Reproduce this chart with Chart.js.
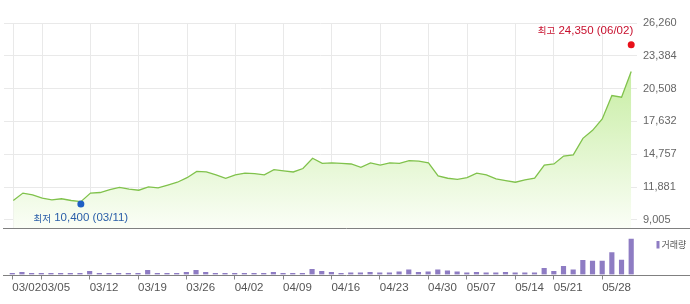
<!DOCTYPE html>
<html>
<head>
<meta charset="utf-8">
<script src="https://cdn.jsdelivr.net/npm/chart.js@4"></script>
<style>
    html, body { margin: 0; padding: 0; background: #fff; }
    #wrap { position: relative; width: 690px; height: 304px; }
    canvas { position: absolute; left: 0; }
    #priceChart { top: 0; }
    #volumeChart { top: 233px; }
</style>
</head>
<body>
<div id="wrap">
    <canvas id="priceChart" width="690" height="233"></canvas>
    <canvas id="volumeChart" width="690" height="71"></canvas>
</div>
<script>
// Trading days (2021) shown on the x axis
const dates = [
    '03/02', '03/03', '03/04', '03/05', '03/08', '03/09', '03/10', '03/11', '03/12', '03/15',
    '03/16', '03/17', '03/18', '03/19', '03/22', '03/23', '03/24', '03/25', '03/26', '03/29',
    '03/30', '03/31', '04/01', '04/02', '04/05', '04/06', '04/07', '04/08', '04/09', '04/12',
    '04/13', '04/14', '04/15', '04/16', '04/19', '04/20', '04/21', '04/22', '04/23', '04/26',
    '04/27', '04/28', '04/29', '04/30', '05/03', '05/04', '05/06', '05/07', '05/10', '05/11',
    '05/12', '05/13', '05/14', '05/17', '05/18', '05/20', '05/21', '05/24', '05/25', '05/26',
    '05/27', '05/28', '05/31', '06/01', '06/02'
];

// Closing prices
const closePrices = [
    10700, 11350, 11200, 10900, 10750, 10850, 10700, 10600, 11350, 11400,
    11650, 11850, 11700, 11600, 11900, 11800, 12050, 12300, 12700, 13250,
    13200, 12950, 12650, 12950, 13100, 13050, 12950, 13400, 13300, 13200,
    13500, 14400, 13950, 14000, 13950, 13900, 13600, 14000, 13800, 14000,
    13950, 14200, 14150, 14000, 12850, 12650, 12550, 12700, 13100, 12950,
    12600, 12450, 12300, 12500, 12650, 13800, 13900, 14600, 14700, 16150,
    16850, 17850, 19900, 19750, 22000
];

// Volume (thousand shares)
const volumes = [
    130, 230, 130, 130, 130, 130, 130, 130, 330, 130,
    130, 130, 130, 130, 430, 130, 130, 130, 230, 430,
    230, 130, 130, 130, 130, 130, 130, 230, 130, 130,
    130, 530, 330, 230, 130, 170, 170, 230, 170, 170,
    270, 470, 230, 270, 470, 370, 270, 170, 230, 170,
    170, 230, 170, 170, 170, 630, 330, 830, 470, 1430,
    1370, 1370, 2230, 1470, 3600
];

// Labelled x ticks and price axis ticks
const tickDates = ['03/02', '03/05', '03/12', '03/19', '03/26', '04/02', '04/09', '04/16',
                   '04/23', '04/30', '05/07', '05/14', '05/21', '05/28'];
const priceTicks = [9005, 11881, 14757, 17632, 20508, 23384, 26260];

// High / low markers
const highValue = 24350;
const highDate = '06/02';
const lowValue = 10400;
const lowDate = '03/11';

const NUM_FONT = '"Liberation Sans", Arial, sans-serif';
const KR_FONT = '"Noto Sans CJK KR", sans-serif';
Chart.defaults.font.family = NUM_FONT;

const tickIndices = tickDates.map(d => dates.indexOf(d));
const xMin = -0.96;
const xMax = 64.6;

// Draw a label made of Korean part (small font) + number part
function drawMixed(ctx, parts, x, y, align, color) {
    ctx.save();
    ctx.fillStyle = color;
    ctx.textBaseline = 'middle';
    ctx.textAlign = 'left';
    let total = 0;
    parts.forEach(p => { ctx.font = p.font; p.w = ctx.measureText(p.text).width; total += p.w; });
    let cx = align === 'right' ? x - total : align === 'center' ? x - total / 2 : x;
    parts.forEach(p => {
        ctx.font = p.font;
        ctx.fillText(p.text, cx, y);
        cx += p.w;
    });
    ctx.restore();
}

// Price chart
new Chart(document.getElementById('priceChart').getContext('2d'), {
    type: 'line',
    data: {
        datasets: [
            {
                data: closePrices.map((v, i) => ({ x: i, y: v })),
                order: 2,
                borderColor: '#80c24c',
                borderWidth: 1.3,
                pointRadius: 0,
                tension: 0,
                fill: 'start',
                backgroundColor: function(context) {
                    const area = context.chart.chartArea;
                    if (!area) return 'rgba(0,0,0,0)';
                    const g = context.chart.ctx.createLinearGradient(0, 8, 0, area.bottom);
                    g.addColorStop(0, '#b3e782');
                    g.addColorStop(1, '#fbfef7');
                    return g;
                }
            },
            {
                data: [{ x: dates.indexOf(highDate), y: highValue }],
                order: 1,
                showLine: false,
                pointRadius: 3.5,
                pointBorderWidth: 0,
                pointBackgroundColor: '#e8101a',
                clip: false
            },
            {
                data: [{ x: dates.indexOf(lowDate), y: lowValue }],
                order: 1,
                showLine: false,
                pointRadius: 3.5,
                pointBorderWidth: 0,
                pointBackgroundColor: '#1e5fc4',
                clip: false
            }
        ]
    },
    options: {
        responsive: false,
        animation: false,
        devicePixelRatio: 1,
        layout: { padding: { left: 3, top: 23, right: 0, bottom: 1 } },
        plugins: { legend: { display: false }, tooltip: { enabled: false } },
        scales: {
            x: {
                type: 'linear',
                offset: false,
                min: xMin,
                max: xMax,
                afterBuildTicks: s => { s.ticks = tickIndices.map(v => ({ value: v })); },
                afterFit: s => { s.height = 0; s.paddingLeft = 0; s.paddingRight = 0; },
                ticks: { display: false },
                grid: { color: '#e9e9e9', drawTicks: false },
                border: { display: false }
            },
            y: {
                position: 'right',
                min: 8200,
                max: 26260,
                afterBuildTicks: s => { s.ticks = priceTicks.map(v => ({ value: v })); },
                afterFit: s => { s.width = 53; s.paddingTop = 0; s.paddingBottom = 0; },
                ticks: {
                    padding: 6,
                    color: '#666',
                    font: { size: 11 },
                    callback: v => v.toLocaleString('en-US')
                },
                grid: { color: '#e9e9e9', drawTicks: false },
                border: { display: false }
            }
        }
    },
    plugins: [{
        id: 'markers',
        afterDatasetsDraw(chart) {
            const ctx = chart.ctx;
            const area = chart.chartArea;
            // separator line under the price panel
            ctx.save();
            ctx.strokeStyle = '#808080';
            ctx.lineWidth = 1;
            ctx.beginPath();
            ctx.moveTo(3, Math.round(area.bottom) - 0.5);
            ctx.lineTo(690, Math.round(area.bottom) - 0.5);
            ctx.stroke();
            ctx.restore();

            const hi = chart.getDatasetMeta(1).data[0];
            const lo = chart.getDatasetMeta(2).data[0];
            drawMixed(ctx, [
                { text: '최고', font: '9.5px ' + KR_FONT },
                { text: ' ' + highValue.toLocaleString('en-US') + ' (' + highDate + ')', font: '11.5px ' + NUM_FONT }
            ], hi.x + 2, hi.y - 14, 'right', '#c8102e');
            drawMixed(ctx, [
                { text: '최저', font: '9.5px ' + KR_FONT },
                { text: ' ' + lowValue.toLocaleString('en-US') + ' (' + lowDate + ')', font: '11.5px ' + NUM_FONT }
            ], lo.x, lo.y + 14, 'center', '#2a5ea8');
        }
    }]
});

// Volume chart
new Chart(document.getElementById('volumeChart').getContext('2d'), {
    type: 'bar',
    data: {
        datasets: [{
            label: '거래량',
            data: volumes.map((v, i) => ({ x: i, y: v })),
            backgroundColor: '#8e7cc3',
            barThickness: 4.5
        }]
    },
    options: {
        responsive: false,
        animation: false,
        devicePixelRatio: 1,
        layout: { padding: { left: 3, top: 4, right: 53, bottom: 0 } },
        plugins: { legend: { display: false }, tooltip: { enabled: false } },
        scales: {
            x: {
                type: 'linear',
                offset: false,
                min: xMin,
                max: xMax,
                afterBuildTicks: s => { s.ticks = tickIndices.map(v => ({ value: v })); },
                afterFit: s => { s.height = 29.5; s.paddingLeft = 0; s.paddingRight = 0; },
                ticks: {
                    align: 'start',
                    padding: 1,
                    color: '#555',
                    font: { size: 11.5 },
                    maxRotation: 0,
                    autoSkip: false,
                    callback: v => dates[v]
                },
                grid: { drawOnChartArea: false, drawTicks: true, tickLength: 5, color: '#888', offset: false },
                border: { display: false }
            },
            y: {
                display: false,
                min: 0,
                max: 3800
            }
        }
    },
    plugins: [{
        id: 'volumeDeco',
        afterDraw(chart) {
            const ctx = chart.ctx;
            const area = chart.chartArea;
            ctx.save();
            ctx.strokeStyle = '#808080';
            ctx.lineWidth = 1;
            ctx.beginPath();
            ctx.moveTo(3, Math.round(area.bottom) + 0.5);
            ctx.lineTo(690, Math.round(area.bottom) + 0.5);
            ctx.stroke();
            // legend
            ctx.fillStyle = '#8e7cc3';
            ctx.fillRect(656.5, 8, 3, 7.5);
            ctx.fillStyle = '#555';
            ctx.font = '9px ' + KR_FONT;
            ctx.textBaseline = 'middle';
            ctx.textAlign = 'left';
            ctx.fillText(chart.data.datasets[0].label, 661.5, 12);
            ctx.restore();
        }
    }]
});
</script>
</body>
</html>
